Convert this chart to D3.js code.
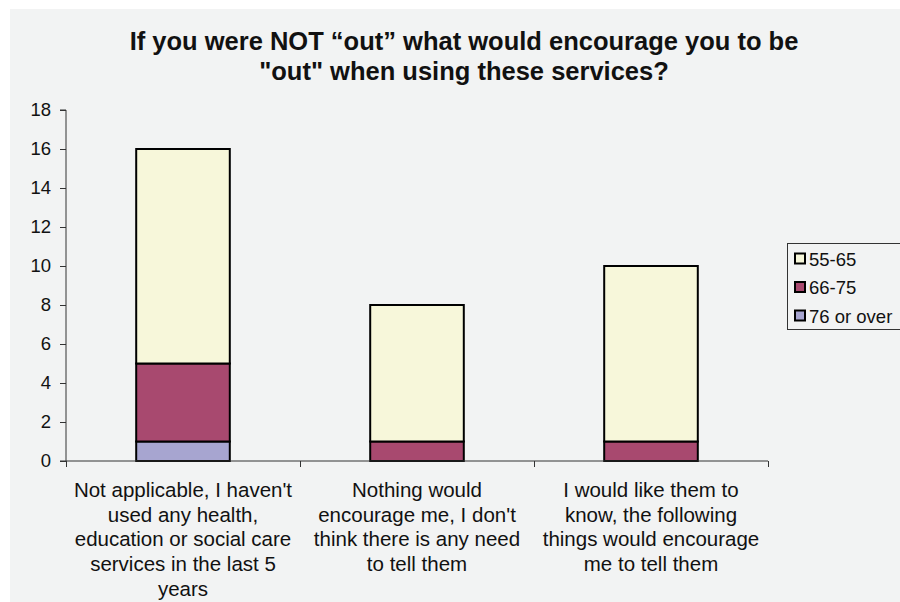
<!DOCTYPE html>
<html><head><meta charset="utf-8">
<script src="https://cdn.jsdelivr.net/npm/d3@7"></script>
<style>
html,body{margin:0;padding:0;background:#fff;}
svg{display:block;}
text{font-family:"Liberation Sans", Arial, sans-serif;fill:#111;}
</style></head>
<body>
<svg id="chart" width="900" height="602"></svg>
<script>
const titleLines = ["If you were NOT \u201cout\u201d what would encourage you to be", "\"out\" when using these services?"];
const categories = [
  ["Not applicable, I haven't", "used any health,", "education or social care", "services in the last 5", "years"],
  ["Nothing would", "encourage me, I don't", "think there is any need", "to tell them"],
  ["I would like them to", "know, the following", "things would encourage", "me to tell them"]
];
const seriesNames = ["76 or over", "66-75", "55-65"];
const values7600 = [1, 0, 0];
const values6675 = [4, 1, 1];
const values5565 = [11, 7, 9];
const colors = ["#a7a5d0", "#a8496f", "#f7f7da"];
const legendOrder = ["55-65", "66-75", "76 or over"];
const yTicks = [0, 2, 4, 6, 8, 10, 12, 14, 16, 18];

const svg = d3.select("#chart");
svg.append("rect").attr("x", 10).attr("y", 9).attr("width", 890).attr("height", 593).attr("fill", "#f2f3f3");

const x0 = 66, x1 = 768, yBase = 461, yTop = 110;
const idx = d3.range(categories.length);
const x = d3.scaleBand().domain(idx).range([x0, x1]).paddingInner(0.6).paddingOuter(0.3);
const xEdge = d3.scaleLinear().domain([0, categories.length]).range([x0, x1]);
const y = d3.scaleLinear().domain([0, 18]).range([yBase, yTop]);

// title
const title = svg.append("text").attr("text-anchor", "middle")
  .style("font-weight", "bold").style("font-size", "25.5px");
titleLines.forEach((t, i) => title.append("tspan").attr("x", 464).attr("y", 50 + i * 29.5).text(t));

// stacked data
const rows = idx.map(i => ({i, "76 or over": values7600[i], "66-75": values6675[i], "55-65": values5565[i]}));
const stack = d3.stack().keys(seriesNames)(rows);
const color = d3.scaleOrdinal().domain(seriesNames).range(colors);

const g = svg.append("g");
stack.forEach(layer => {
  g.selectAll(null).data(layer.filter(d => d[1] > d[0])).enter().append("rect")
    .attr("x", d => x(d.data.i))
    .attr("width", x.bandwidth())
    .attr("y", d => y(d[1]))
    .attr("height", d => y(d[0]) - y(d[1]))
    .attr("fill", color(layer.key))
    .attr("stroke", "#000").attr("stroke-width", 2);
});

// y axis
const yAxis = d3.axisLeft(y).tickValues(yTicks).tickSize(6).tickPadding(9).tickFormat(d3.format("d"));
const ya = svg.append("g").attr("transform", `translate(${x0},0)`).call(yAxis);
ya.select(".domain").attr("stroke", "#333").attr("d", `M-6,${yTop}H0V${yBase}H-6`);
ya.selectAll(".tick line").attr("stroke", "#333");
ya.selectAll(".tick text").style("font-size", "18.5px").style("font-family", "Liberation Sans, Arial, sans-serif").attr("fill", "#111");

// x axis
const xAxis = d3.axisBottom(xEdge).tickValues(d3.range(categories.length + 1)).tickSize(6).tickFormat("");
const xa = svg.append("g").attr("transform", `translate(0,${yBase})`).call(xAxis);
xa.select(".domain").attr("stroke", "#333").attr("d", `M${x0},0H${x1}`);
xa.selectAll(".tick line").attr("stroke", "#333");

// category labels
categories.forEach((lines, i) => {
  const cx = x(i) + x.bandwidth() / 2;
  const t = svg.append("text").attr("text-anchor", "middle").style("font-size", "20.5px");
  lines.forEach((l, k) => t.append("tspan").attr("x", cx).attr("y", 497 + k * 24.7).text(l));
});

// legend
const lg = svg.append("g");
lg.append("rect").attr("x", 787.5).attr("y", 243.5).attr("width", 130).attr("height", 86)
  .attr("fill", "none").attr("stroke", "#333").attr("stroke-width", 1);
legendOrder.forEach((name, k) => {
  const cy = 258.5 + k * 28.5;
  lg.append("rect").attr("x", 795).attr("y", cy - 5).attr("width", 10).attr("height", 10)
    .attr("fill", color(name)).attr("stroke", "#000").attr("stroke-width", 2);
  lg.append("text").attr("x", 809).attr("y", cy + 7).style("font-size", "18.5px").text(name);
});
</script>
</body></html>
